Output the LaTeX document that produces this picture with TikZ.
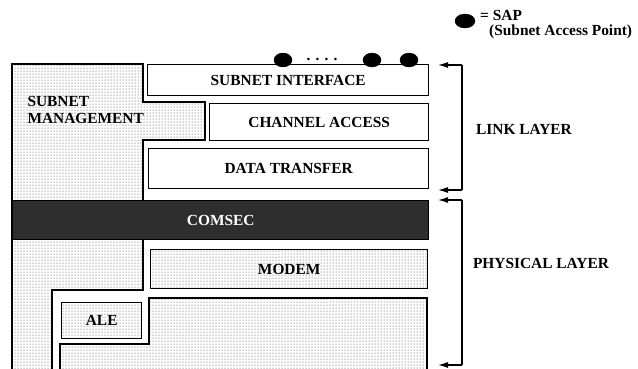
\documentclass[tikz,border=0pt]{standalone}
\usepackage{fontspec}
\setmainfont{Liberation Serif}
\usetikzlibrary{patterns,arrows.meta,shapes.geometric}
\begin{document}
\begin{tikzpicture}[x=1pt,y=-1pt,
  lbl/.style={font=\fontsize{15.4}{17}\selectfont\bfseries},
  edge/.style={line width=1.4pt,draw=black},
  dotted fill/.style={pattern=dots,pattern color=black!80},
  box/.style={edge,rectangle,inner sep=0pt,lbl,anchor=north west},
  sap/.style={ellipse,fill=black,draw=black,minimum width=18pt,minimum height=14pt,inner sep=0pt},
  brk/.style={line width=1.2pt,-{Latex[length=10pt,width=6pt]}}
]
\clip (0,0) rectangle (638,368);
% subnet management region
\path[edge,dotted fill] (12,64) -- (143,64) -- (143,102) -- (205,102) -- (205,140) -- (143,140)
  -- (143,290) -- (52,290) -- (52,380) -- (12,380) -- cycle;
\node[lbl,align=left,anchor=north west] (mgmt) at (24,93) {SUBNET\\MANAGEMENT};
% boxes
\node[box,fill=white,minimum width=281pt,minimum height=31pt] (si) at (147,64) {SUBNET INTERFACE};
\node[box,fill=white,minimum width=219pt,minimum height=37pt] (ca) at (209,103) {CHANNEL ACCESS};
\node[box,fill=white,minimum width=280pt,minimum height=40pt] (dt) at (148,148) {DATA TRANSFER};
\node[box,fill=black!82,text=white,minimum width=416pt,minimum height=39pt] (cs) at (12,200) {COMSEC};
\node[box,dotted fill,minimum width=277pt,minimum height=39pt] (md) at (150,249) {MODEM};
\node[box,dotted fill,minimum width=80pt,minimum height=36pt] (ale) at (61,302) {ALE};
\path[edge,dotted fill] (149,298) -- (427,298) -- (427,380) -- (60,380) -- (60,344) -- (149,344) -- cycle;
% SAPs
\node[sap] (s1) at (283,60) {};
\node[sap] (s2) at (372,60) {};
\node[sap] (s3) at (409,60) {};
\node[lbl,inner sep=0pt] (dots) at (322,59) {. . . .};
% legend
\node[sap,minimum width=20pt,minimum height=14pt] (lsap) at (465,21) {};
\node[lbl,anchor=base west,inner sep=0pt] (leq) at (480,20) {= SAP};
\node[lbl,anchor=base west,inner sep=0pt] (ltxt) at (489,35) {(Subnet Access Point)};
% brackets
\coordinate (l1) at (462,65);
\coordinate (l2) at (462,190);
\coordinate (p1) at (462,200);
\coordinate (p2) at (462,365);
\coordinate (l1t) at (438,65);
\coordinate (l2t) at (438,190);
\coordinate (p1t) at (438,200);
\coordinate (p2t) at (438,365);
\draw[line width=1.2pt] (l1) -- (l2);
\draw[brk] (l1) -- (l1t);
\draw[brk] (l2) -- (l2t);
\draw[line width=1.2pt] (p1) -- (p2);
\draw[brk] (p1) -- (p1t);
\draw[brk] (p2) -- (p2t);
\node[lbl] (link) at (524,129) {LINK LAYER};
\node[lbl] (phys) at (541,263) {PHYSICAL LAYER};
\end{tikzpicture}
\end{document}
